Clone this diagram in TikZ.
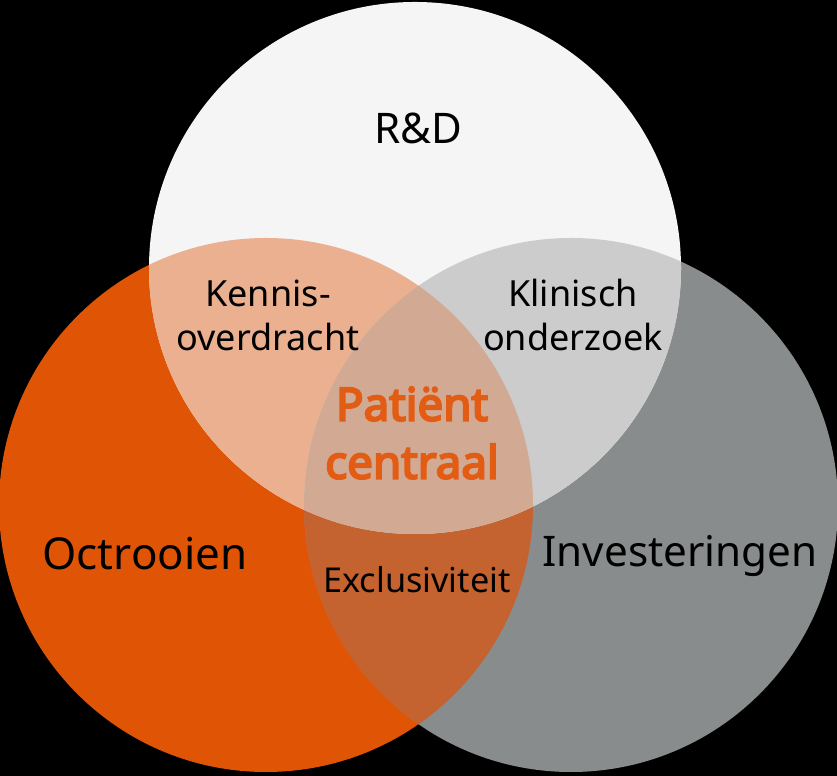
\documentclass[tikz,border=0pt]{standalone}
\usepackage{fontspec}
\setmainfont{Noto Sans}[AutoFakeBold=4.5]
\definecolor{octrooi}{RGB}{224,84,6}
\definecolor{invest}{RGB}{137,140,140}
\definecolor{rendd}{RGB}{245,245,245}
\definecolor{octrd}{RGB}{235,176,143}
\definecolor{invrd}{RGB}{204,204,204}
\definecolor{octinv}{RGB}{196,98,48}
\definecolor{midden}{RGB}{210,170,148}
\definecolor{patient}{RGB}{226,92,20}
\tikzset{
  label/.style={align=center, text=black, font=\fontsize{20.5}{25}\selectfont},
  big/.style={align=center, text=black, font=\fontsize{25}{30}\selectfont}
}

\begin{document}
\begin{tikzpicture}[x=0.02cm, y=0.02cm]
  % Venn-diagram: drie cirkels met overlappen
  \fill[black] (0,0) rectangle (837,776);
  \useasboundingbox (0,0) rectangle (837,776);
  \coordinate (rd) at (415,508);
  \coordinate (oc) at (266,271);
  \coordinate (in) at (571,271);
  \fill[octrooi] (oc) circle (267);
  \fill[invest] (in) circle (267);
  \fill[rendd] (rd) circle (266);
  \begin{scope}
    \clip (oc) circle (267);
    \fill[octinv] (in) circle (267);
    \fill[octrd] (rd) circle (266);
  \end{scope}
  \begin{scope}
    \clip (in) circle (267);
    \fill[invrd] (rd) circle (266);
  \end{scope}
  \begin{scope}
    \clip (oc) circle (267);
    \clip (in) circle (267);
    \fill[midden] (rd) circle (266);
  \end{scope}
  \node[big, font=\fontsize{24}{30}\selectfont] (rdtext) at (418,648) {R\&D};
  \node[label] (kennis) at (268,461) {Kennis-\\overdracht};
  \node[label] (klinisch) at (573,461) {Klinisch\\onderzoek};
  \node[align=center, text=patient, font=\bfseries\fontsize{26}{33}\selectfont] (centraal) at (412,343) {Patiënt\\centraal};
  \node[big] (octr) at (145,222) {Octrooien};
  \node[big, font=\fontsize{24}{30}\selectfont] (inv) at (680,220) {Investeringen};
  \node[label, font=\fontsize{19.5}{25}\selectfont] (excl) at (417,196) {Exclusiviteit};
\end{tikzpicture}
\end{document}
